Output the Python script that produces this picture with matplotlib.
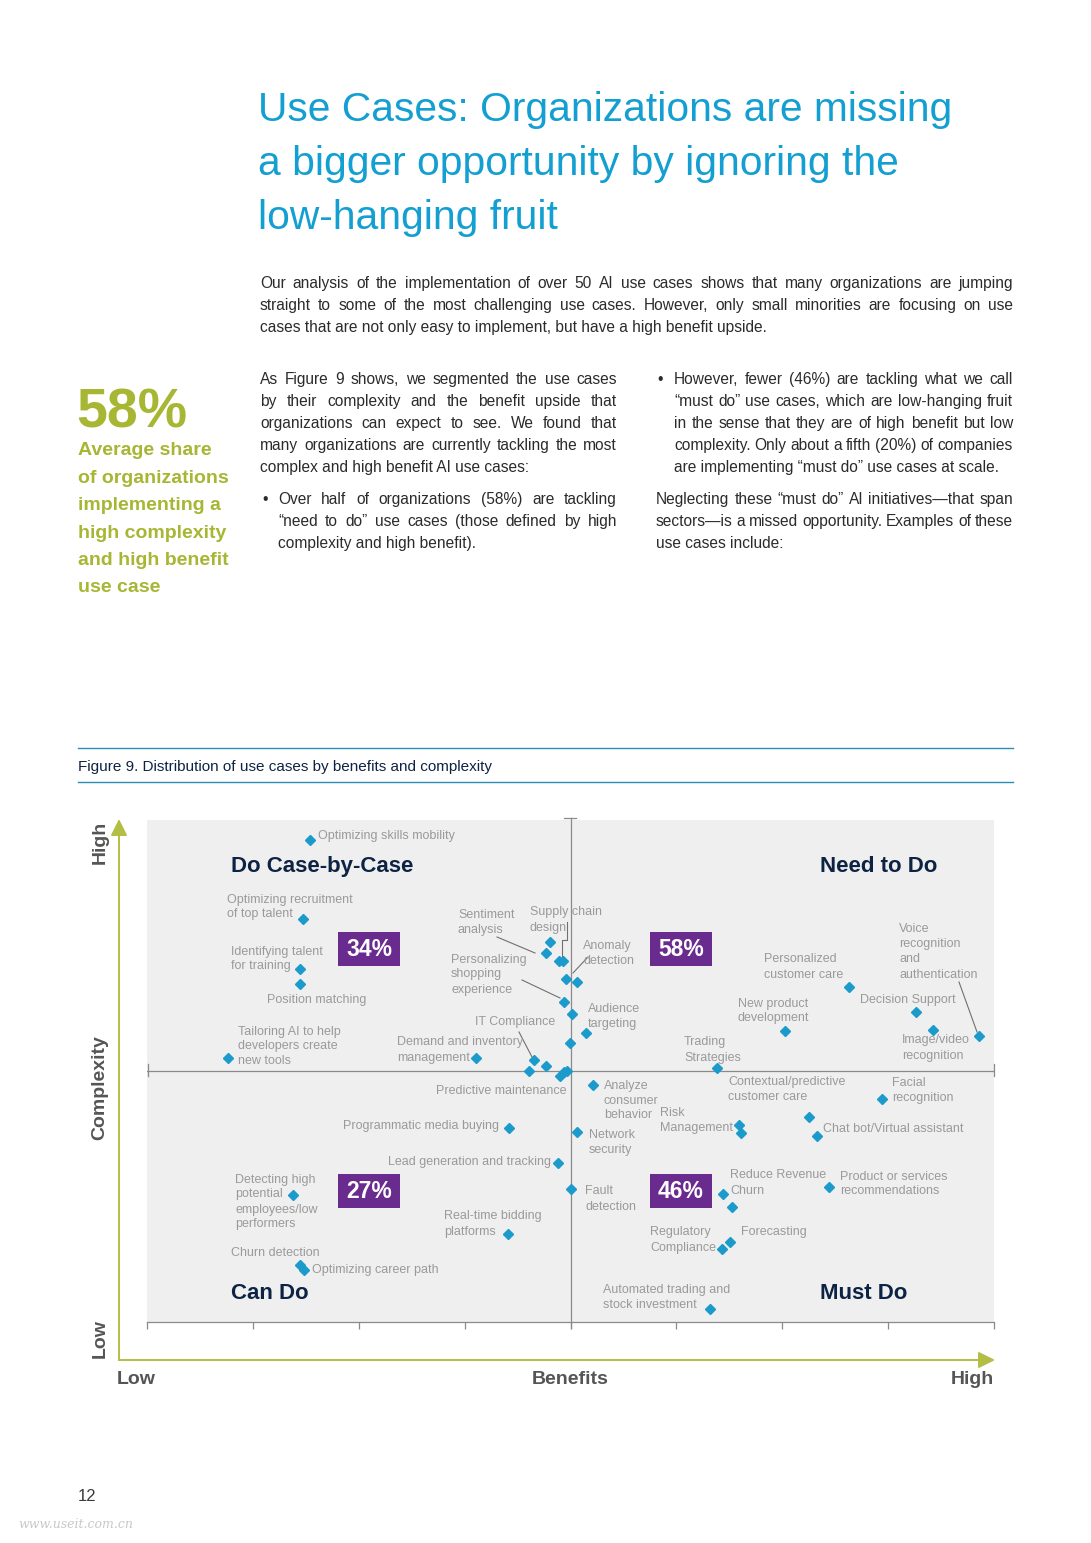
import matplotlib
matplotlib.use("Agg")
import matplotlib.pyplot as plt
import matplotlib.transforms as mtransforms
from matplotlib.lines import Line2D
from matplotlib.patches import Rectangle, FancyArrowPatch
import numpy as np

# page size in pixels
W, H = 1091, 1543

# colours
BLUE_TITLE = "#139FD1"
OLIVE = "#A7B633"
ARROW = "#B3BE45"
NAVY = "#0D2343"
PURPLE = "#6A2B8E"
DIAMOND = "#1A9BCB"
LABEL = "#9A9A9A"
INK = "#2B2B2B"
AXIS_GRAY = "#8A8A8A"
PANEL = "#EFEFEF"
RULE = "#2D8DB5"

# ---- data: use cases, benefit (x, 0-100) and complexity (y, 0-100) ----
benefit = [19.2, 18.4, 18.1, 18.1, 9.6, 38.8, 47.6, 47.1, 48.6, 49.1,
           49.5, 50.8, 49.2, 50.2, 51.8, 49.9, 45.7, 47.1, 45.1, 48.8,
           49.2, 49.6, 52.7, 50.8, 50.1, 48.5, 42.7, 42.6, 17.2, 18.1,
           18.5, 82.9, 98.2, 90.8, 92.8, 75.3, 67.3, 69.9, 70.1, 78.2,
           79.1, 86.8, 68.0, 69.1, 80.5, 67.9, 68.8, 66.5]
complexity = [96.0, 80.3, 70.3, 67.3, 52.6, 52.6, 75.7, 73.5, 71.9, 71.9,
              68.3, 67.7, 63.7, 61.4, 57.6, 55.6, 52.2, 51.0, 50.0, 49.0,
              49.8, 50.0, 47.2, 37.8, 26.5, 31.7, 38.6, 17.5, 25.3, 11.4,
              10.4, 66.7, 57.0, 61.8, 58.2, 58.0, 50.6, 39.2, 37.6, 40.8,
              37.1, 44.4, 25.5, 22.9, 26.9, 14.5, 15.9, 2.6]

quadrant_names = ["Do Case-by-Case", "Need to Do", "Can Do", "Must Do"]
quadrant_share = ["34%", "58%", "27%", "46%"]
x_tick_values = [0, 12.5, 25, 37.5, 50, 62.5, 75, 87.5, 100]

# use-case labels (text, left x px, first-line centre y px, alignment)
case_labels = [
    ("Optimizing skills mobility", 318, 836, "left"),
    ("Optimizing recruitment\nof top talent", 227, 899, "left"),
    ("Identifying talent\nfor training", 231, 951, "left"),
    ("Position matching", 267, 1000, "left"),
    ("Tailoring AI to help\ndevelopers create\nnew tools", 238, 1031, "left"),
    ("Sentiment\nanalysis", 458, 914, "left"),
    ("Supply chain\ndesign", 530, 912, "left"),
    ("Anomaly\ndetection", 583, 945, "left"),
    ("Personalizing\nshopping\nexperience", 451, 959, "left"),
    ("IT Compliance", 475, 1022, "left"),
    ("Audience\ntargeting", 588, 1008, "left"),
    ("Demand and inventory\nmanagement", 397, 1042, "left"),
    ("Predictive maintenance", 566, 1091, "right"),
    ("Analyze\nconsumer\nbehavior", 604, 1085, "left"),
    ("Risk\nManagement", 660, 1112, "left"),
    ("Network\nsecurity", 589, 1135, "left"),
    ("Programmatic media buying", 343, 1126, "left"),
    ("Lead generation and tracking", 388, 1162, "left"),
    ("Fault\ndetection", 585, 1191, "left"),
    ("Detecting high\npotential\nemployees/low\nperformers", 235, 1179, "left"),
    ("Real-time bidding\nplatforms", 444, 1216, "left"),
    ("Churn detection", 231, 1252, "left"),
    ("Optimizing career path", 312, 1269, "left"),
    ("Personalized\ncustomer care", 764, 959, "left"),
    ("Voice\nrecognition\nand\nauthentication", 899, 929, "left"),
    ("Decision Support", 860, 1000, "left"),
    ("New product\ndevelopment", 738, 1003, "left"),
    ("Image/video\nrecognition", 902, 1040, "left"),
    ("Trading\nStrategies", 684, 1042, "left"),
    ("Contextual/predictive\ncustomer care", 728, 1081, "left"),
    ("Facial\nrecognition", 892, 1082, "left"),
    ("Chat bot/Virtual assistant", 823, 1129, "left"),
    ("Reduce Revenue\nChurn", 730, 1175, "left"),
    ("Product or services\nrecommendations", 840, 1176, "left"),
    ("Regulatory\nCompliance", 650, 1232, "left"),
    ("Forecasting", 741, 1232, "left"),
    ("Automated trading and\nstock investment", 603, 1290, "left"),
]

# leader lines (px)
leaders = [
    ([497, 535], [937, 953]),
    ([567, 567, 562, 562], [922, 940, 940, 956]),
    ([588, 573], [957, 973]),
    ([522, 560], [980, 998]),
    ([519, 532], [1032, 1057]),
    ([959, 977], [982, 1032]),
]

plt.rcParams["font.family"] = ["Liberation Sans", "DejaVu Sans"]
fig = plt.figure(figsize=(W / 100, H / 100), dpi=100)
PIX = mtransforms.Affine2D().scale(1 / W, -1 / H).translate(0, 1) + fig.transFigure


def ptext(x, y, s, **kw):
    kw.setdefault("va", "center")
    return fig.text(x, y, s, transform=PIX, **kw)


def btext(x, y, s, size, **kw):
    # y is the visual middle of the line; place on a shared baseline
    return ptext(x, y + 0.28 * size * 100 / 72, s, fontsize=size, va="baseline", **kw)


def justified(lines, x0, x1, y0, step=22, size=11.2, color=INK):
    r = fig.canvas.get_renderer()
    for i, line in enumerate(lines):
        y = y0 + i * step
        words = line.split(" ")
        if i == len(lines) - 1 or len(words) == 1:
            btext(x0, y, line, size, color=color)
            continue
        ts = [btext(0, y, w, size, color=color) for w in words]
        widths = [t.get_window_extent(r).width for t in ts]
        gap = (x1 - x0 - sum(widths)) / (len(words) - 1)
        x = x0
        for t, w in zip(ts, widths):
            t.set_x(x)
            x += w + gap


# ---- title and body ----
for i, line in enumerate(["Use Cases: Organizations are missing",
                          "a bigger opportunity by ignoring the",
                          "low-hanging fruit"]):
    btext(258, 110 + i * 54, line, 29.3, color=BLUE_TITLE)

justified(["Our analysis of the implementation of over 50 AI use cases shows that many organizations are jumping",
           "straight to some of the most challenging use cases. However, only small minorities are focusing on use",
           "cases that are not only easy to implement, but have a high benefit upside."], 260, 1013, 284)

justified(["As Figure 9 shows, we segmented the use cases",
           "by their complexity and the benefit upside that",
           "organizations can expect to see. We found that",
           "many organizations are currently tackling the most",
           "complex and high benefit AI use cases:"], 260, 617, 380)
btext(262, 500, "\u2022", 11.2, color=INK)
justified(["Over half of organizations (58%) are tackling",
           "\u201cneed to do\u201d use cases (those defined by high",
           "complexity and high benefit)."], 278, 617, 500)

btext(657, 380, "\u2022", 11.2, color=INK)
justified(["However, fewer (46%) are tackling what we call",
           "\u201cmust do\u201d use cases, which are low-hanging fruit",
           "in the sense that they are of high benefit but low",
           "complexity. Only about a fifth (20%) of companies",
           "are implementing \u201cmust do\u201d use cases at scale."], 674, 1013, 380)
justified(["Neglecting these \u201cmust do\u201d AI initiatives\u2014that span",
           "sectors\u2014is a missed opportunity. Examples of these",
           "use cases include:"], 656, 1013, 500)

# sidebar
btext(76, 412, "58%", 40, fontweight="bold", color=OLIVE)
for i, line in enumerate(["Average share", "of organizations", "implementing a",
                          "high complexity", "and high benefit", "use case"]):
    btext(78, 450 + i * 27.4, line, 14, fontweight="bold", color=OLIVE)

# figure caption
for yy in (748, 782):
    fig.add_artist(Line2D([78, 1013], [yy, yy], transform=PIX, color=RULE, lw=1.0))
btext(78, 767, "Figure 9. Distribution of use cases by benefits and complexity", 11,
      color=NAVY)

# ---- chart ----
ax = fig.add_axes([147 / W, 1 - 1322 / H, 847 / W, 502 / H])
ax.set_facecolor(PANEL)
ax.set_xlim(0, 100)
ax.set_ylim(0, 100)
for side in ("left", "right", "top"):
    ax.spines[side].set_visible(False)
ax.spines["bottom"].set_color(AXIS_GRAY)
ax.spines["bottom"].set_linewidth(0.9)
ax.set_xticks(x_tick_values)
ax.set_xticklabels([])
ax.tick_params(axis="x", direction="out", length=5, width=0.9, color=AXIS_GRAY)
ax.set_yticks([])

ax.axvline(50, ymin=-0.012, ymax=1.004, color=AXIS_GRAY, lw=0.9, clip_on=False, zorder=1)
ax.axhline(50, color=AXIS_GRAY, lw=0.9, zorder=1)
fig.add_artist(Line2D([564, 576], [818, 818], transform=PIX, color=AXIS_GRAY, lw=0.9))
for xx in (147.5, 993.5):
    fig.add_artist(Line2D([xx, xx], [1064, 1076], transform=PIX, color=AXIS_GRAY, lw=0.9))

ax.plot(benefit, complexity, linestyle="none", marker="D", ms=5.4,
        color=DIAMOND, mec=DIAMOND, zorder=5)

for xs, ys in leaders:
    fig.add_artist(Line2D(xs, ys, transform=PIX, color="#707070", lw=0.8))

for text, lx, ly, ha in case_labels:
    for k, part in enumerate(text.split("\n")):
        btext(lx, ly + k * 15, part, 9, color=LABEL, ha=ha)

# quadrant titles and share boxes
title_pos = [(231, 866), (820, 866), (231, 1293), (820, 1293)]
box_pos = [(338, 932), (650, 932), (338, 1174), (650, 1174)]
for name, (tx, ty) in zip(quadrant_names, title_pos):
    btext(tx, ty, name, 16, fontweight="bold", color=NAVY)
for share, (bx, by) in zip(quadrant_share, box_pos):
    fig.add_artist(Rectangle((bx, by), 62, 34, transform=PIX, facecolor=PURPLE,
                             edgecolor="none"))
    btext(bx + 31, by + 18, share, 16.5, fontweight="bold", color="white", ha="center")

# axis arrows
arrow_style = "-|>,head_length=1.0,head_width=0.5"
fig.add_artist(FancyArrowPatch((119, 1360), (119, 819), transform=PIX,
                               arrowstyle=arrow_style, mutation_scale=10,
                               color=ARROW, lw=1.4, shrinkA=0, shrinkB=0))
fig.add_artist(FancyArrowPatch((119, 1360), (995, 1360), transform=PIX,
                               arrowstyle=arrow_style, mutation_scale=10,
                               color=ARROW, lw=1.4, shrinkA=0, shrinkB=0))

AX_LABEL = "#555555"
ptext(100, 842, "High", fontsize=14, fontweight="bold", color=AX_LABEL, rotation=90, ha="center")
ptext(100, 1088, "Complexity", fontsize=14, fontweight="bold", color=AX_LABEL, rotation=90, ha="center")
ptext(100, 1339, "Low", fontsize=14, fontweight="bold", color=AX_LABEL, rotation=90, ha="center")
btext(117, 1379, "Low", 14, fontweight="bold", color=AX_LABEL)
btext(570, 1379, "Benefits", 14, fontweight="bold", color=AX_LABEL, ha="center")
btext(994, 1379, "High", 14, fontweight="bold", color=AX_LABEL, ha="right")

# footer
btext(78, 1496, "12", 12, color="#3A3A3A")
ptext(18, 1525, "www.useit.com.cn", fontsize=9, color="#C8C8C8",
      family="DejaVu Serif", style="italic")

fig.savefig("out.png", dpi=100)
